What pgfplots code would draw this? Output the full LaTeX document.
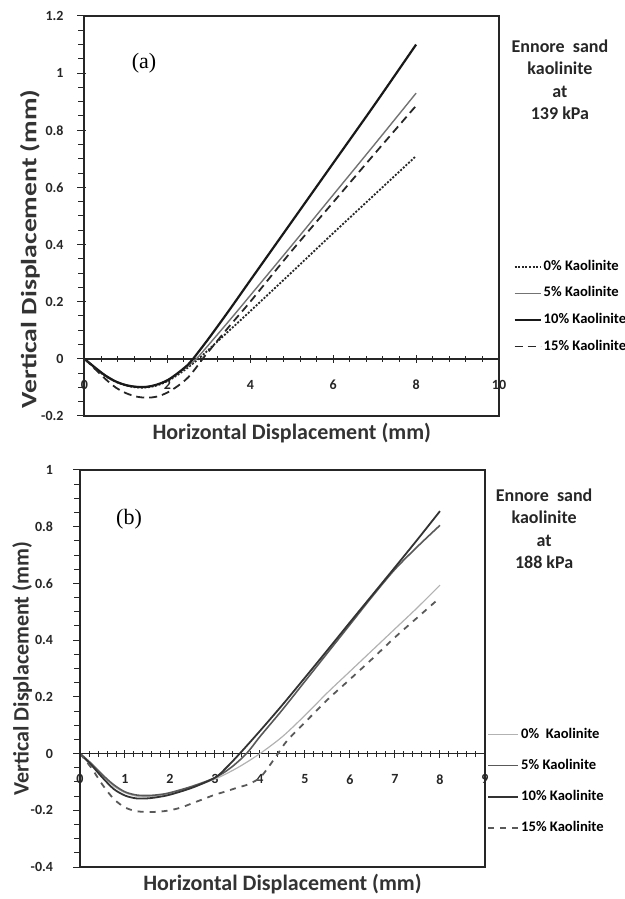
\documentclass[border=0pt]{standalone}
\usepackage{fontspec}
\setmainfont{Carlito}
\newfontfamily\seriffont{Liberation Serif}
\usepackage{pgfplots}
\pgfplotsset{compat=1.18}

\tikzset{
  side/.style={font=\fontsize{9}{10}\selectfont\bfseries, black!85, anchor=center,
    inner sep=0pt, text height=6.5pt, text depth=2pt},
}
\pgfplotsset{
  dispaxis/.style={
    scale only axis,
    anchor=south west,
    axis x line*=middle,
    axis y line*=left,
    hide obscured x ticks=false,
    axis line style={-, line width=0.8pt, black!85},
    tick align=center,
    major tick length=4pt,
    minor tick length=3pt,
    every tick/.style={black!85, line width=0.5pt},
    ytick style={xshift=-1.5pt},
    minor y tick num=3,
    /pgf/number format/assume math mode=true,
    ticklabel style={font=\fontsize{7}{8}\selectfont\bfseries, black!85},
    xticklabel style={yshift=-5pt},
    yticklabel style={xshift=-5pt},
    xlabel={Horizontal Displacement (mm)},
    ylabel={Vertical Displacement (mm)},
    label style={font=\fontsize{11}{12}\selectfont\bfseries, black!80},
    xlabel style={at={(axis description cs:0.5,0)}, anchor=center, yshift=-8.5pt},
    clip mode=individual,
    legend cell align=left,
    legend image code/.code={\draw[#1] (0pt,0pt) -- (13pt,0pt);},
    legend style={draw=none, fill=none, inner sep=0pt,
      font=\fontsize{7.3}{8}\selectfont\bfseries,
      nodes={inner sep=0pt, text height=5pt, text depth=1.3pt},
      /tikz/every odd column/.append style={column sep=1pt}},
    after end axis/.code={\draw[line width=1pt, black!85] (rel axis cs:0,0) rectangle (rel axis cs:1,1);},
  },
}

\begin{document}
\begin{tikzpicture}
\useasboundingbox (0,0) rectangle (312.5pt,449.5pt);

% (a) 139 kPa
\begin{axis}[dispaxis,
  at={(42.25pt,241.5pt)}, width=207.25pt, height=200pt,
  xmin=0, xmax=10, ymin=-0.2, ymax=1.2,
  xtick={0,2,4,6,8,10}, minor x tick num=4,
  ytick={-0.2,0,0.2,0.4,0.6,0.8,1,1.2},
  ylabel style={at={(axis description cs:-0.1315,0.4175)}, anchor=center, xscale=1.26},
  legend style={at={(1.034,0.39)}, anchor=north west, row sep=7pt},
]
\addplot[smooth, black!85, line width=0.9pt, dash pattern=on 1pt off 0.8pt] coordinates {
 (0,0) (0.25,-0.032) (0.5,-0.06) (0.75,-0.08) (1,-0.093) (1.25,-0.1) (1.5,-0.1)
 (1.75,-0.093) (2,-0.078) (2.25,-0.056) (2.5,-0.03) (2.75,0) (3,0.033) (3.5,0.1)
 (4,0.167) (5,0.303) (6,0.44) (7,0.575) (8,0.71)};
\addplot[smooth, black!55, line width=0.7pt] coordinates {
 (0,0) (0.25,-0.03) (0.5,-0.057) (0.75,-0.078) (1,-0.091) (1.25,-0.097) (1.5,-0.097)
 (1.75,-0.09) (2,-0.075) (2.25,-0.052) (2.5,-0.025) (2.7,0) (3,0.05) (3.5,0.135)
 (4,0.222) (5,0.397) (6,0.574) (7,0.751) (8,0.93)};
\addplot[smooth, black!90, line width=1.1pt] coordinates {
 (0,0) (0.25,-0.03) (0.5,-0.058) (0.75,-0.079) (1,-0.092) (1.25,-0.098) (1.5,-0.098)
 (1.75,-0.09) (2,-0.075) (2.25,-0.05) (2.5,-0.02) (2.62,0) (3,0.072) (3.5,0.172)
 (4,0.275) (5,0.48) (6,0.685) (7,0.89) (8,1.1)};
\addplot[smooth, black!85, line width=0.9pt, dash pattern=on 4pt off 2.5pt] coordinates {
 (0,0) (0.25,-0.035) (0.5,-0.07) (0.75,-0.1) (1,-0.12) (1.25,-0.132) (1.5,-0.136)
 (1.75,-0.132) (2,-0.118) (2.25,-0.095) (2.5,-0.065) (2.75,-0.02) (2.85,0) (3,0.027)
 (3.5,0.115) (4,0.2) (5,0.378) (6,0.548) (7,0.718) (8,0.886)};
\legend{0\% Kaolinite, 5\% Kaolinite, 10\% Kaolinite, 15\% Kaolinite}
\node[font=\seriffont\fontsize{11}{12}\selectfont] at (axis description cs:0.1435,0.8825) {(a)};
\node[side] at (axis description cs:1.147,0.92) {Ennore\ \ sand};
\node[side] at (axis description cs:1.147,0.865) {kaolinite};
\node[side] at (axis description cs:1.147,0.8075) {at};
\node[side] at (axis description cs:1.147,0.7525) {139 kPa};
\end{axis}

% (b) 188 kPa
\begin{axis}[dispaxis,
  at={(40pt,16pt)}, width=202.5pt, height=198.5pt,
  xmin=0, xmax=9, ymin=-0.4, ymax=1,
  xtick={0,1,...,9}, minor x tick num=4,
  ytick={-0.4,-0.2,0,0.2,0.4,0.6,0.8,1},
  yticklabel style={xshift=-3pt},
  ylabel style={at={(axis description cs:-0.143,0.5)}, anchor=center},
  legend style={at={(1.005,0.351)}, anchor=north west, row sep=9.3pt},
  legend image code/.code={\draw[#1] (0pt,0pt) -- (15pt,0pt);},
]
\addplot[smooth, black!30, line width=0.6pt] coordinates {
 (0,0) (0.25,-0.035) (0.5,-0.078) (0.75,-0.115) (1,-0.138) (1.25,-0.15) (1.5,-0.152)
 (1.75,-0.148) (2,-0.14) (2.5,-0.117) (3,-0.09) (3.5,-0.05) (4,0) (4.5,0.06)
 (5,0.135) (5.5,0.215) (6,0.29) (6.5,0.365) (7,0.44) (7.5,0.515) (8,0.594)};
\addplot[smooth, black!65, line width=0.8pt] coordinates {
 (0,0) (0.25,-0.035) (0.5,-0.075) (0.75,-0.11) (1,-0.135) (1.25,-0.146) (1.5,-0.148)
 (1.75,-0.145) (2,-0.138) (2.5,-0.115) (3,-0.085) (3.35,-0.05) (3.7,0) (4,0.06)
 (4.5,0.155) (5,0.255) (5.5,0.355) (6,0.455) (6.5,0.555) (7,0.65) (7.5,0.73) (8,0.805)};
\addplot[smooth, black!80, line width=0.9pt] coordinates {
 (0,0) (0.25,-0.04) (0.5,-0.085) (0.75,-0.125) (1,-0.148) (1.25,-0.158) (1.5,-0.158)
 (1.75,-0.153) (2,-0.145) (2.5,-0.12) (3,-0.085) (3.25,-0.05) (3.55,0) (4,0.08)
 (4.5,0.172) (5,0.268) (5.5,0.365) (6,0.463) (6.5,0.56) (7,0.657) (7.5,0.755) (8,0.855)};
\addplot[smooth, black!65, line width=0.9pt, dash pattern=on 3pt off 3pt] coordinates {
 (0,0) (0.25,-0.05) (0.5,-0.11) (0.75,-0.16) (1,-0.19) (1.25,-0.203) (1.5,-0.206)
 (1.75,-0.205) (2,-0.2) (2.25,-0.19) (2.5,-0.175) (2.75,-0.16) (3,-0.145) (3.25,-0.133)
 (3.5,-0.12) (3.75,-0.108) (4,-0.085) (4.2,-0.045) (4.4,0) (4.6,0.045) (5,0.11)
 (5.5,0.19) (6,0.262) (6.5,0.335) (7,0.41) (7.5,0.48) (8,0.55)};
\legend{0\%\ \ Kaolinite, 5\% Kaolinite, 10\% Kaolinite, 15\% Kaolinite}
\node[font=\seriffont\fontsize{11}{12}\selectfont] at (axis description cs:0.121,0.877) {(b)};
\node[side] at (axis description cs:1.146,0.932) {Ennore\ \ sand};
\node[side] at (axis description cs:1.146,0.877) {kaolinite};
\node[side] at (axis description cs:1.146,0.819) {at};
\node[side] at (axis description cs:1.146,0.763) {188 kPa};
\end{axis}
\end{tikzpicture}
\end{document}
